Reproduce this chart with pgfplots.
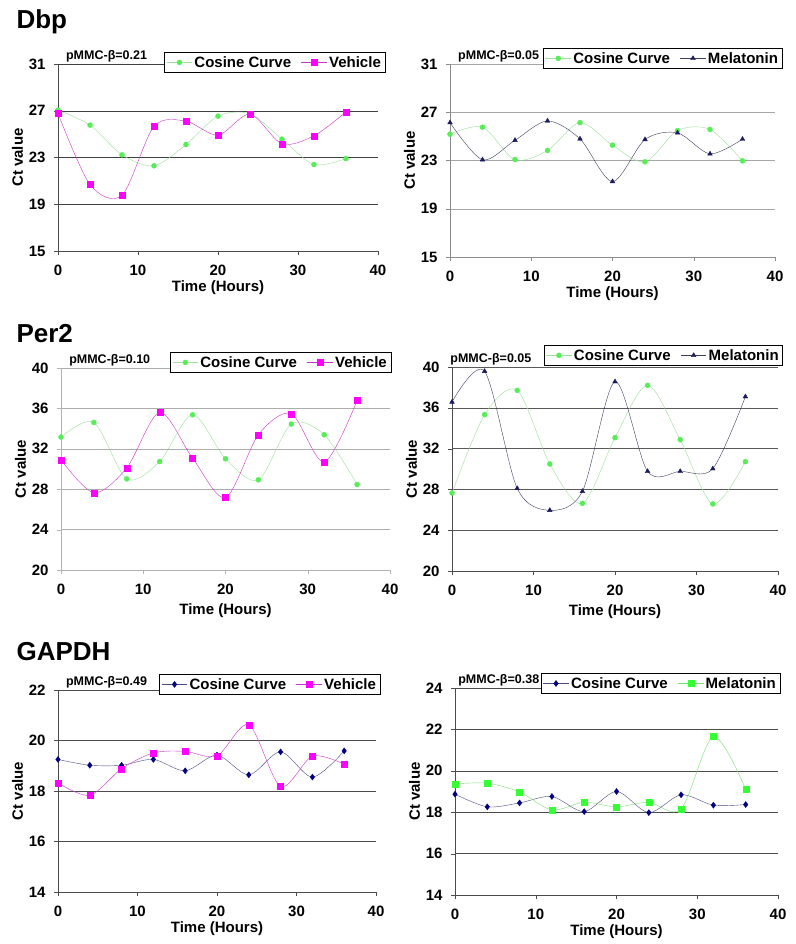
\documentclass[border=0pt]{standalone}
\usepackage{fontspec}
\setmainfont{Liberation Sans}
\usepackage{pgfplots}
\pgfplotsset{compat=1.18}

\definecolor{cosgreen}{HTML}{55EE55}
\definecolor{cosgreenline}{HTML}{9ADF9A}
\definecolor{vehmag}{HTML}{FF00FF}
\definecolor{vehline}{HTML}{CC33CC}
\definecolor{melnavy}{HTML}{1A1A5E}
\definecolor{melline}{HTML}{3C3C5C}
\definecolor{gnavy}{HTML}{000080}
\definecolor{gnavyline}{HTML}{4A4A85}
\definecolor{mgreen}{HTML}{33FF33}
\definecolor{mgreenline}{HTML}{77DD77}

\tikzset{pm/.style={anchor=south west, fill=white, inner sep=1.5pt,
    font=\fontsize{12.5}{12.5}\selectfont\bfseries}}

\pgfplotsset{
  panel/.style={
    scale only axis,
    xmin=0, xmax=40, xtick={0,10,20,30,40},
    axis x line*=bottom, axis y line*=left,
    tick align=outside, major tick length=4pt,
    ymajorgrids,
    clip=false,
    /pgf/number format/assume math mode=true,
    tick label style={font=\fontsize{15}{15}\selectfont\bfseries},
    xticklabel style={yshift=-6pt},
    yticklabel style={xshift=-5pt},
    xlabel={Time (Hours)}, ylabel={Ct value},
    label style={font=\fontsize{15}{15}\selectfont\bfseries},
    xlabel style={at={(axis description cs:0.5,0)}, anchor=center, yshift=-37pt},
    ylabel style={yshift=-1pt},
    legend columns=2,
    legend style={anchor=north east, draw=black, fill=white,
      font=\fontsize{15}{15}\selectfont\bfseries, inner sep=2pt,
      /tikz/every even column/.append style={column sep=8pt}},
    legend image code/.code={\draw[mark repeat=2,mark phase=2,##1]
      plot coordinates {(0cm,0cm) (0.45cm,0cm) (0.9cm,0cm)};},
  },
  cosg/.style={color=cosgreenline, thin, smooth, mark=*, mark size=2.5pt,
    mark options={draw=cosgreen, fill=cosgreen}},
  veh/.style={color=vehline, thin, smooth, mark=square*, mark size=3pt,
    mark options={draw=vehmag, fill=vehmag}},
  mel/.style={color=melline, thin, smooth, mark=triangle*, mark size=2.7pt,
    mark options={draw=melnavy, fill=melnavy}},
  cosn/.style={color=gnavyline, thin, smooth, mark=diamond*, mark size=3pt,
    mark options={draw=gnavy, fill=gnavy}},
  melg/.style={color=mgreenline, thin, smooth, mark=square*, mark size=3pt,
    mark options={draw=mgreen, fill=mgreen}},
}

\begin{document}
\begin{tikzpicture}
\useasboundingbox (0,0) rectangle (795pt,-944pt);

\node[anchor=base west, font=\fontsize{26}{26}\selectfont\bfseries] at (13pt,-29pt) {Dbp};
\node[anchor=base west, font=\fontsize{26}{26}\selectfont\bfseries] at (13pt,-342pt) {Per2};
\node[anchor=base west, font=\fontsize{26}{26}\selectfont\bfseries] at (13pt,-660pt) {GAPDH};

% Dbp, vehicle
\begin{axis}[panel, at={(58pt,-64pt)}, anchor=north west, width=320pt, height=187pt,
  ymin=15, ymax=31, ytick={15,19,23,27,31},
  grid style={black!75}, axis line style={black!70}, tick style={black!70},
  legend style={at={(1.022,1.064)}}]
  \addplot[cosg] coordinates {(0,27.05) (4,25.77) (8,23.23) (12,22.29) (16,24.11)
    (20,26.54) (24,26.74) (28,24.57) (32,22.40) (36,22.91)};
  \addlegendentry{Cosine Curve}
  \addplot[veh] coordinates {(0,26.77) (4,20.69) (8,19.77) (12,25.66) (16,26.11)
    (20,24.91) (24,26.71) (28,24.17) (32,24.86) (36,26.89)};
  \addlegendentry{Vehicle}
  \node[pm] at (rel axis cs:0.02,1) {pMMC-β=0.21};
\end{axis}

% Dbp, melatonin
\begin{axis}[panel, at={(450pt,-64pt)}, anchor=north west, width=325pt, height=193pt,
  ymin=15, ymax=31, ytick={15,19,23,27,31},
  grid style={black!35}, axis line style={black!45}, tick style={black!45},
  legend style={at={(1.022,1.083)}}]
  \addplot[cosg] coordinates {(0,25.18) (4,25.76) (8,23.08) (12,23.83) (16,26.14)
    (20,24.27) (24,22.89) (28,25.48) (32,25.57) (36,22.97)};
  \addlegendentry{Cosine Curve}
  \addplot[mel] coordinates {(0,26.14) (4,23.06) (8,24.68) (12,26.28) (16,24.79)
    (20,21.26) (24,24.74) (28,25.29) (32,23.55) (36,24.77)};
  \addlegendentry{Melatonin}
  \node[pm] at (rel axis cs:0.02,1) {pMMC-β=0.05};
\end{axis}

% Per2, vehicle
\begin{axis}[panel, at={(61pt,-368pt)}, anchor=north west, width=329pt, height=202pt,
  ymin=20, ymax=40, ytick={20,24,28,32,36,40},
  grid style={black!32}, axis line style={black!30}, tick style={black!30},
  xlabel style={yshift=-4pt}, legend style={at={(1.003,1.079)}}]
  \addplot[cosg] coordinates {(0,33.16) (4,34.61) (8,29.02) (12,30.74) (16,35.37)
    (20,31.01) (24,28.93) (28,34.45) (32,33.39) (36,28.46)};
  \addlegendentry{Cosine Curve}
  \addplot[veh] coordinates {(0,30.91) (4,27.64) (8,30.12) (12,35.60) (16,31.07)
    (20,27.17) (24,33.39) (28,35.47) (32,30.68) (36,36.79)};
  \addlegendentry{Vehicle}
  \node[pm] at (rel axis cs:0.02,1) {pMMC-β=0.10};
\end{axis}

% Per2, melatonin
\begin{axis}[panel, at={(452pt,-367pt)}, anchor=north west, width=326pt, height=204pt,
  ymin=20, ymax=40, ytick={20,24,28,32,36,40},
  grid style={black!65}, axis line style={black!70}, tick style={black!70},
  xlabel style={yshift=-4pt}, legend style={at={(1.015,1.108)}}]
  \addplot[cosg] coordinates {(0,27.65) (4,35.33) (8,37.71) (12,30.49) (16,26.63)
    (20,33.07) (24,38.20) (28,32.88) (32,26.57) (36,30.72)};
  \addlegendentry{Cosine Curve}
  \addplot[mel] coordinates {(0,36.57) (4,39.58) (8,28.10) (12,25.95) (16,27.81)
    (20,38.56) (24,29.77) (28,29.77) (32,30.03) (36,37.09)};
  \addlegendentry{Melatonin}
  \node[pm, fill=none] at (rel axis cs:-0.01,1) {pMMC-β=0.05};
\end{axis}

% GAPDH, vehicle
\begin{axis}[panel, at={(58pt,-690pt)}, anchor=north west, width=318pt, height=202pt,
  ymin=14, ymax=22, ytick={14,16,18,20,22},
  grid style={black!70}, axis line style={black!70}, tick style={black!70},
  legend style={at={(1.013,1.079)}}]
  \addplot[cosn] coordinates {(0,19.25) (4,19.02) (8,19.02) (12,19.25) (16,18.80)
    (20,19.42) (24,18.64) (28,19.55) (32,18.55) (36,19.59)};
  \addlegendentry{Cosine Curve}
  \addplot[veh] coordinates {(0,18.32) (4,17.83) (8,18.88) (12,19.51) (16,19.57)
    (20,19.39) (24,20.62) (28,18.18) (32,19.38) (36,19.06)};
  \addlegendentry{Vehicle}
  \node[pm] at (rel axis cs:0.02,1) {pMMC-β=0.49};
\end{axis}

% GAPDH, melatonin
\begin{axis}[panel, at={(455pt,-688pt)}, anchor=north west, width=323pt, height=207pt,
  ymin=14, ymax=24, ytick={14,16,18,20,22,24},
  grid style={black!70}, axis line style={black!70}, tick style={black!70},
  legend style={at={(1.006,1.072)}}]
  \addplot[cosn] coordinates {(0,18.87) (4,18.26) (8,18.45) (12,18.76) (16,18.03)
    (20,19.00) (24,17.98) (28,18.84) (32,18.34) (36,18.37)};
  \addlegendentry{Cosine Curve}
  \addplot[melg] coordinates {(0,19.37) (4,19.40) (8,18.98) (12,18.11) (16,18.48)
    (20,18.26) (24,18.48) (28,18.15) (32,21.65) (36,19.11)};
  \addlegendentry{Melatonin}
  \node[pm] at (rel axis cs:0.005,1) {pMMC-β=0.38};
\end{axis}
\end{tikzpicture}
\end{document}
